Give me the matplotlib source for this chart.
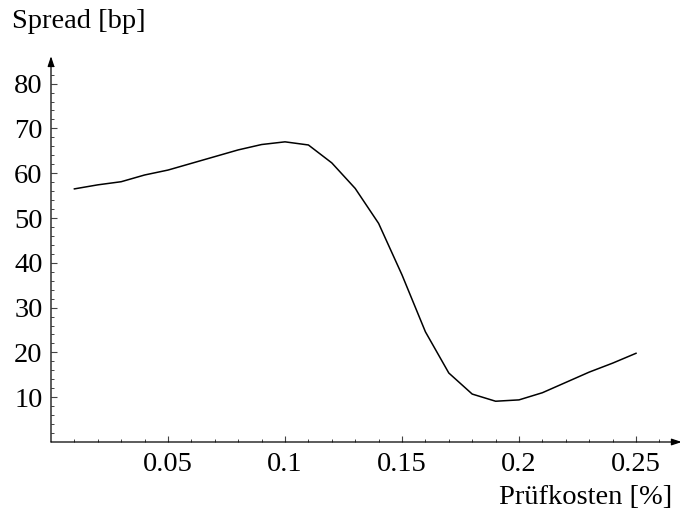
import matplotlib
matplotlib.use("Agg")
import matplotlib.pyplot as plt
from matplotlib.ticker import FixedLocator

cost = [0.01, 0.02, 0.03, 0.04, 0.05, 0.06, 0.07, 0.08, 0.09, 0.10, 0.11, 0.12, 0.13,
        0.14, 0.15, 0.16, 0.17, 0.18, 0.19, 0.20, 0.21, 0.22, 0.23, 0.24, 0.25]
spread = [56.5, 57.4, 58.1, 59.6, 60.7, 62.2, 63.7, 65.2, 66.4, 67.0, 66.3, 62.3, 56.6,
          48.8, 37.3, 24.6, 15.4, 10.7, 9.1, 9.4, 11.0, 13.3, 15.6, 17.6, 19.8]
xticks = [0.05, 0.1, 0.15, 0.2, 0.25]
xticklabels = ["0.05", "0.1", "0.15", "0.2", "0.25"]
yticks = [10, 20, 30, 40, 50, 60, 70, 80]

plt.rcParams['font.family'] = ['Liberation Serif', 'DejaVu Serif']
W, H = 680, 513
fig = plt.figure(figsize=(W / 100, H / 100), dpi=100)
x0, x1 = 51, 678
y0, y1 = 442, 60
ax = fig.add_axes([x0 / W, (H - y0) / H, (x1 - x0) / W, (y0 - y1) / H])
xmax = (x1 - x0) / 2340.0
ymax = (y0 - y1) / 4.48
ax.set_xlim(0, xmax)
ax.set_ylim(0, ymax)

ax.plot(cost, spread, color='black', lw=1.1, clip_on=False)

for s in ax.spines.values():
    s.set_visible(False)
ax.annotate('', xy=(1.006, 0), xytext=(0, 0), xycoords='axes fraction',
            arrowprops=dict(arrowstyle='-|>,head_length=0.6,head_width=0.2', color='black', lw=0.9,
                            shrinkA=0, shrinkB=0))
ax.annotate('', xy=(0, 1.01), xytext=(0, 0), xycoords='axes fraction',
            arrowprops=dict(arrowstyle='-|>,head_length=0.6,head_width=0.2', color='black', lw=0.9,
                            shrinkA=0, shrinkB=0))

ax.xaxis.set_major_locator(FixedLocator(xticks))
ax.set_xticklabels(xticklabels)
ax.xaxis.set_minor_locator(FixedLocator([i / 100 for i in range(1, 27)]))
ax.yaxis.set_major_locator(FixedLocator(yticks))
ax.yaxis.set_minor_locator(FixedLocator(list(range(2, 86, 2))))
ax.tick_params(which='major', direction='in', length=4.5, width=0.8, labelsize=20.5,
               color='#444444')
ax.tick_params(which='minor', direction='in', length=2.5, width=0.7, color='#444444')
ax.tick_params(axis='x', which='major', pad=7)
ax.tick_params(axis='y', which='major', pad=6)
ax.tick_params(top=False, right=False)

fig.text(12 / W, 1 - 22 / H, 'Spread [bp]', fontsize=20.5, ha='left', va='center')
fig.text(672 / W, 1 - 497 / H, 'Prüfkosten [%]', fontsize=20.5, ha='right', va='center')

fig.savefig('out.png', dpi=100)
